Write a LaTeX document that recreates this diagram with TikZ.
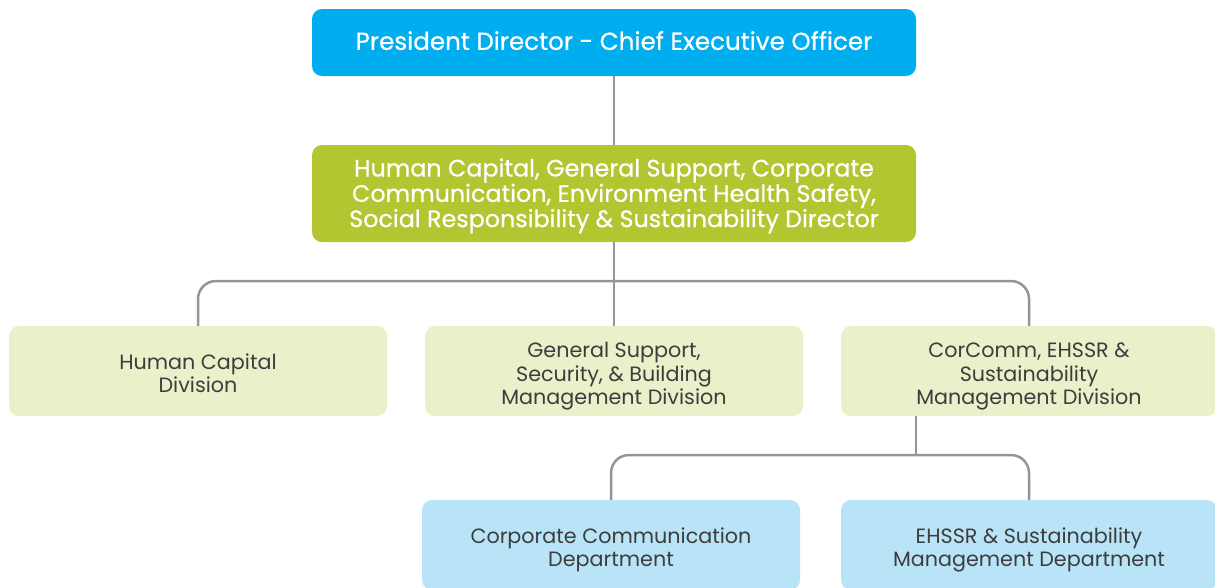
\documentclass[tikz,border=0pt]{standalone}
\usepackage{fontspec}
\setmainfont{Poppins}
\newfontfamily\medfont{Poppins}[FakeBold=0.6]
\newcommand{\myTopStrut}{\rule{0pt}{20pt}}
\definecolor{ceoblue}{HTML}{00AEEF}
\definecolor{dirgreen}{HTML}{B4C532}
\definecolor{divgreen}{HTML}{EBF0CA}
\definecolor{deptblue}{HTML}{B9E4F8}
\definecolor{linegray}{HTML}{939598}
\definecolor{txtgray}{HTML}{3D3D3D}
\tikzset{
  box/.style={rectangle, rounded corners=10pt, align=center, inner sep=2pt},
  topbox/.style={box, fill=ceoblue, text=white, text depth=4pt, font=\medfont\fontsize{24.6}{24}\selectfont},
  dirbox/.style={box, fill=dirgreen, text=white, text depth=1.5pt, font=\medfont\fontsize{23.8}{24}\selectfont},
  divbox/.style={box, fill=divgreen, text=txtgray, text depth=0pt, minimum width=378pt, minimum height=90pt, font=\fontsize{20.7}{23.8}\selectfont},
  deptbox/.style={box, fill=deptblue, text=txtgray, text depth=0pt, minimum width=378pt, minimum height=90pt, font=\fontsize{20.7}{23.8}\selectfont},
  conn/.style={draw=linegray, line width=2.5pt},
}
\begin{document}
\begin{tikzpicture}[x=1pt,y=-1pt]
\useasboundingbox (0,0) rectangle (1215,587);
\clip (0,0) rectangle (1215,587);
\node[topbox, minimum width=604pt, minimum height=67pt] (ceo) at (614,42.5) {President Director - Chief Executive Officer};
\node[dirbox, minimum width=604pt, minimum height=97pt] (dir) at (614,193.5) {Human Capital, General Support, Corporate\\Communication, Environment Health Safety,\\Social Responsibility \& Sustainability Director};
\node[divbox] (hc) at (198,371) {\myTopStrut Human Capital\\Division};
\node[divbox] (gs) at (614,371) {\myTopStrut General Support,\\Security, \& Building\\Management Division};
\node[divbox, minimum width=376pt] (cc) at (1029,371) {\myTopStrut CorComm, EHSSR \&\\Sustainability\\Management Division};
\node[deptbox] (ccd) at (611,545) {\myTopStrut Corporate Communication\\Department};
\node[deptbox, minimum width=376pt] (eh) at (1029,545) {\myTopStrut EHSSR \& Sustainability\\Management Department};
\coordinate (bar1) at (614,281);
\coordinate (bar2) at (916,455);
\draw[conn] (ceo) -- (dir);
\draw[conn] (dir.south) -- (gs.north);
\draw[conn, rounded corners=18pt] (hc.north) -- (hc.north |- bar1) -- (cc.north |- bar1) -- (cc.north);
\draw[conn] (cc.south -| bar2) -- (bar2);
\draw[conn, rounded corners=18pt] (ccd.north) -- (ccd.north |- bar2) -- (eh.north |- bar2) -- (eh.north);
\end{tikzpicture}
\end{document}
